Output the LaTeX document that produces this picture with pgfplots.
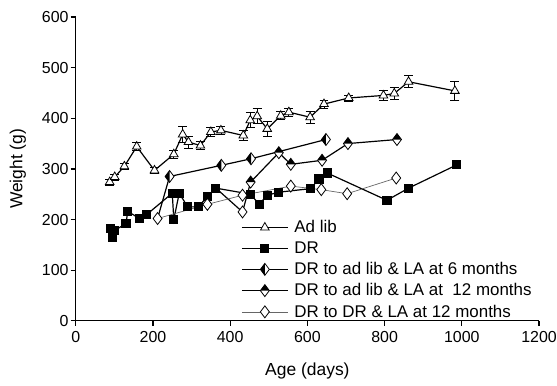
\documentclass[border=0pt]{standalone}
\usepackage{pgfplots}
\pgfplotsset{compat=1.18}
\usepackage{pgfplotstable}
\usepackage{fontspec}
\setmainfont{Liberation Sans}

\pgfdeclareplotmark{halfleft}{%
  \pgfpathmoveto{\pgfqpoint{0pt}{\pgfplotmarksize}}%
  \pgfpathlineto{\pgfqpoint{0.75\pgfplotmarksize}{0pt}}%
  \pgfpathlineto{\pgfqpoint{0pt}{-\pgfplotmarksize}}%
  \pgfpathlineto{\pgfqpoint{-0.75\pgfplotmarksize}{0pt}}%
  \pgfpathclose
  \pgfsetfillcolor{white}\pgfusepath{fill}%
  \pgfpathmoveto{\pgfqpoint{0pt}{\pgfplotmarksize}}%
  \pgfpathlineto{\pgfqpoint{-0.75\pgfplotmarksize}{0pt}}%
  \pgfpathlineto{\pgfqpoint{0pt}{-\pgfplotmarksize}}%
  \pgfpathclose
  \pgfsetfillcolor{black}\pgfusepath{fill}%
  \pgfpathmoveto{\pgfqpoint{0pt}{\pgfplotmarksize}}%
  \pgfpathlineto{\pgfqpoint{0.75\pgfplotmarksize}{0pt}}%
  \pgfpathlineto{\pgfqpoint{0pt}{-\pgfplotmarksize}}%
  \pgfpathlineto{\pgfqpoint{-0.75\pgfplotmarksize}{0pt}}%
  \pgfpathclose
  \pgfusepath{stroke}%
}
\pgfdeclareplotmark{halftop}{%
  \pgfpathmoveto{\pgfqpoint{0pt}{\pgfplotmarksize}}%
  \pgfpathlineto{\pgfqpoint{0.75\pgfplotmarksize}{0pt}}%
  \pgfpathlineto{\pgfqpoint{0pt}{-\pgfplotmarksize}}%
  \pgfpathlineto{\pgfqpoint{-0.75\pgfplotmarksize}{0pt}}%
  \pgfpathclose
  \pgfsetfillcolor{white}\pgfusepath{fill}%
  \pgfpathmoveto{\pgfqpoint{0pt}{\pgfplotmarksize}}%
  \pgfpathlineto{\pgfqpoint{0.75\pgfplotmarksize}{0pt}}%
  \pgfpathlineto{\pgfqpoint{-0.75\pgfplotmarksize}{0pt}}%
  \pgfpathclose
  \pgfsetfillcolor{black}\pgfusepath{fill}%
  \pgfpathmoveto{\pgfqpoint{0pt}{\pgfplotmarksize}}%
  \pgfpathlineto{\pgfqpoint{0.75\pgfplotmarksize}{0pt}}%
  \pgfpathlineto{\pgfqpoint{0pt}{-\pgfplotmarksize}}%
  \pgfpathlineto{\pgfqpoint{-0.75\pgfplotmarksize}{0pt}}%
  \pgfpathclose
  \pgfusepath{stroke}%
}
\pgfdeclareplotmark{opendia}{%
  \pgfpathmoveto{\pgfqpoint{0pt}{\pgfplotmarksize}}%
  \pgfpathlineto{\pgfqpoint{0.75\pgfplotmarksize}{0pt}}%
  \pgfpathlineto{\pgfqpoint{0pt}{-\pgfplotmarksize}}%
  \pgfpathlineto{\pgfqpoint{-0.75\pgfplotmarksize}{0pt}}%
  \pgfpathclose
  \pgfsetfillcolor{white}\pgfusepath{fill,stroke}%
}

\pgfplotstableread{
x y e
88 274 6
101 284 6
126 305 6
158 344 8
204 297 6
254 329 8
277 368 15
292 353 12
323 346 8
350 373 8
376 376 8
434 366 10
452 396 15
470 404 15
496 379 14
531 405 8
552 412 8
607 402 12
643 428 8
707 440 6
797 445 10
825 449 12
862 472 12
982 454 18
}\adlib

\pgfplotstableread{
x y
90 182
95 165
100 178
130 192
135 216
165 202
184 210
250 252
254 200
268 252
290 225
318 225
341 246
363 262
453 250
475 230
496 248
526 254
608 261
630 280
651 292
806 238
862 262
987 308
}\dr

\pgfplotstableread{
x y
243 285
377 307
454 320
648 358
}\sixm

\pgfplotstableread{
x y
453 274
526 332
557 309
638 317
705 350
832 358
}\twelvem

\pgfplotstableread{
x y
212 202
341 230
432 248
557 266
636 259
703 251
830 282
}\drdr

\begin{document}
\begin{tikzpicture}
\useasboundingbox (-76pt,-65pt) rectangle (483pt,322pt);
\begin{axis}[
  at={(0pt,0pt)}, anchor=south west,
  width=465pt, height=305pt, scale only axis,
  xmin=0, xmax=1200, ymin=0, ymax=600,
  axis lines*=left,
  axis line style={line width=1.3pt, -},
  xtick={0,200,...,1200}, ytick={0,100,...,600},
  tick align=outside, major tick length=5pt,
  tick style={line width=1.3pt, black},
  tick label style={font=\fontsize{16}{19}\selectfont},
  yticklabel style={inner sep=2pt},
  xticklabel style={inner sep=2pt, yshift=-3pt},
  /pgf/number format/assume math mode=true,
  /pgf/number format/1000 sep={},
  xlabel={Age (days)}, ylabel={Weight (g)},
  label style={font=\fontsize{17.5}{20}\selectfont},
  xlabel style={at={(axis description cs:0.5,-0.165)}, anchor=center},
  ylabel style={at={(axis description cs:-0.125,0.5)}, anchor=center},
  clip=false,
  legend style={draw=none, fill=none, at={(0.357,0.337)}, anchor=north west,
    font=\fontsize{17}{20}\selectfont, row sep=3.5pt, inner sep=0pt,
    nodes={inner sep=2pt},
    /tikz/every odd column/.append style={column sep=4pt}},
  legend cell align=left,
  legend image code/.code={\draw[mark repeat=2,mark phase=2,#1] plot coordinates {(0pt,0pt)(23pt,0pt)(46pt,0pt)};},
]
% connector segments without marks
\addplot[forget plot, black, line width=1.2pt] coordinates {(212,202) (243,285)};
\addplot[forget plot, black, line width=1.2pt] coordinates {(432,215) (453,274)};
\addplot[forget plot, black, line width=1.2pt] coordinates {(363,262) (432,215)};
\addplot[black, line width=1.2pt, mark=triangle*, mark size=5pt,
  mark options={fill=white, line width=0.8pt},
  error bars/.cd, y dir=both, y explicit,
  error bar style={line width=0.8pt},
  error mark options={rotate=90, mark size=4.5pt, line width=0.8pt}]
  table[x=x, y=y, y error=e] {\adlib};
\addlegendentry{Ad lib}
\addplot[black, line width=1.2pt, mark=square*, mark size=4pt,
  mark options={fill=black}] table[x=x, y=y] {\dr};
\addlegendentry{DR}
\addplot[black, line width=1.2pt, mark=halfleft, mark size=6pt,
  mark options={line width=0.8pt}] table[x=x, y=y] {\sixm};
\addlegendentry{DR to ad lib \& LA at 6 months}
\addplot[black, line width=1.2pt, mark=halftop, mark size=6pt,
  mark options={line width=0.8pt}] table[x=x, y=y] {\twelvem};
\addlegendentry{DR to ad lib \& LA at~ 12 months}
\addplot[black!60, line width=0.7pt, mark=opendia, mark size=6pt,
  mark options={draw=black, line width=0.8pt}] table[x=x, y=y] {\drdr};
\addlegendentry{DR to DR \& LA at 12 months}
\addplot[forget plot, only marks, mark=opendia, mark size=6pt,
  mark options={draw=black, line width=0.8pt}] coordinates {(432,215)};
\end{axis}
\end{tikzpicture}
\end{document}
